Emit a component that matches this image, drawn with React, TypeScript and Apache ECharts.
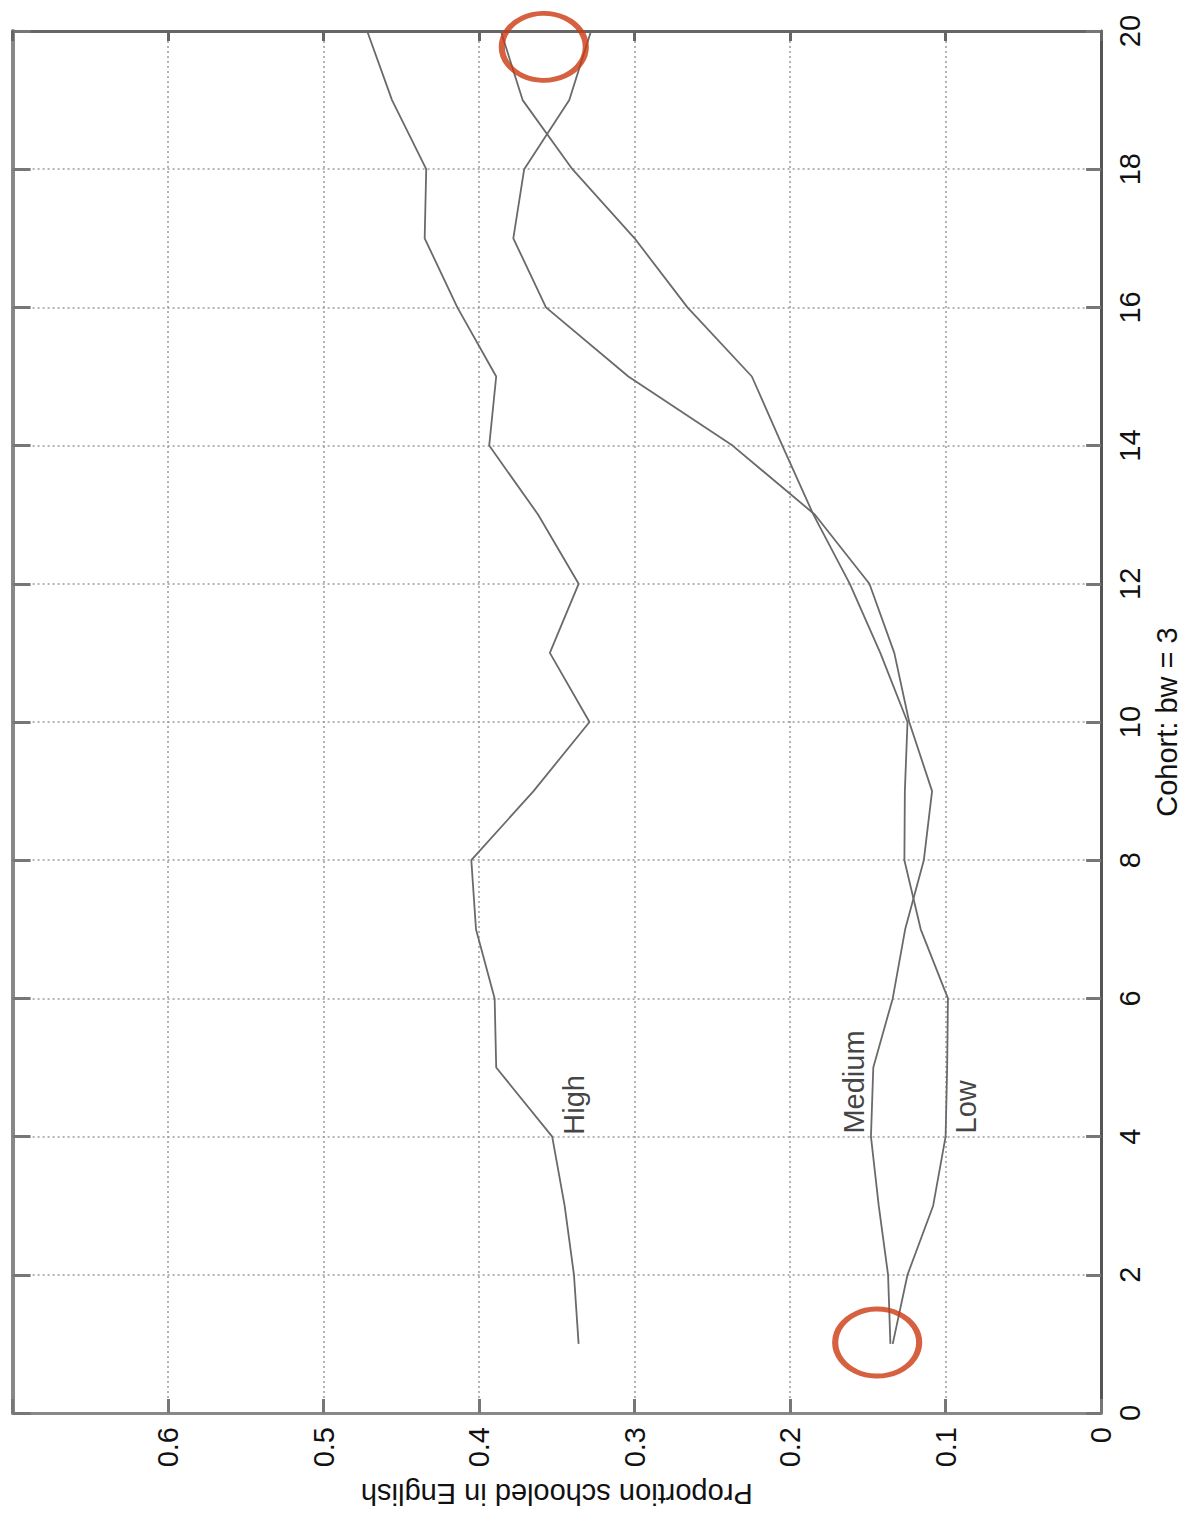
import React, { useEffect, useRef } from "react";
import * as echarts from "echarts";

const cohorts = [1, 2, 3, 4, 5, 6, 7, 8, 9, 10, 11, 12, 13, 14, 15, 16, 17, 18, 19, 20];
const highVals = [0.336, 0.339, 0.345, 0.353, 0.389, 0.39, 0.402, 0.405, 0.365, 0.329, 0.3545, 0.336, 0.362, 0.3935, 0.389, 0.414, 0.435, 0.434, 0.456, 0.472];
const mediumVals = [0.1355, 0.137, 0.143, 0.148, 0.1465, 0.134, 0.126, 0.114, 0.1087, 0.1234, 0.133, 0.149, 0.184, 0.237, 0.304, 0.357, 0.378, 0.371, 0.342, 0.328];
const lowVals = [0.134, 0.1245, 0.108, 0.1, 0.099, 0.0985, 0.116, 0.1265, 0.1262, 0.1245, 0.142, 0.1616, 0.185, 0.205, 0.2246, 0.266, 0.3, 0.34, 0.372, 0.386];

const groupLabels = ["High", "Medium", "Low"];
const labelProportion = [0.339, 0.159, 0.087];
const labelCohort = [4.46, 4.79, 4.43];

const circleProportion = [0.3584, 0.144];
const circleCohort = [19.77, 1.02];

const xTicksText = ["0", "0.1", "0.2", "0.3", "0.4", "0.5", "0.6"];

const FONT = "'Liberation Sans', Arial, Helvetica, sans-serif";
const LINE_COLOR = "#6a6a6a";

export default function App() {
  const ref = useRef<HTMLDivElement>(null);

  useEffect(() => {
    if (!ref.current) return;
    const chart = echarts.init(ref.current, undefined, { renderer: "svg" });

    const pairs = (vals: number[]) => vals.map((v, i) => [v, cohorts[i]]);

    const gridLine = { show: true, lineStyle: { color: "#9a9a9a", width: 1.5, type: [2, 3] as any } };

    const option: any = {
      animation: false,
      backgroundColor: "#ffffff",
      textStyle: { fontFamily: FONT },
      grid: { left: 12.6, right: 82.4, top: 31, bottom: 103, containLabel: false },
      xAxis: [
        {
          type: "value",
          min: 0,
          max: 0.7,
          interval: 0.1,
          inverse: true,
          position: "bottom",
          axisLine: { show: true, onZero: false, lineStyle: { color: "#888888", width: 3 } },
          axisTick: { show: true, inside: true, length: 14, lineStyle: { color: "#777777", width: 3 } },
          axisLabel: {
            show: true,
            rotate: 90,
            margin: 14,
            fontSize: 29,
            color: "#111111",
            fontFamily: FONT,
            formatter: (v: number) => {
              const idx = Math.round(v * 10);
              return idx < xTicksText.length ? xTicksText[idx] : "";
            },
          },
          splitLine: gridLine,
          name: "Proportion schooled in English",
          nameLocation: "middle",
          nameRotate: 180,
          nameGap: 66,
          nameTextStyle: { fontSize: 29, color: "#111111", fontFamily: FONT },
        },
        {
          type: "value",
          min: 0,
          max: 0.7,
          interval: 0.1,
          inverse: true,
          position: "top",
          axisLine: { show: true, onZero: false, lineStyle: { color: "#666666", width: 3 } },
          axisTick: { show: true, inside: true, length: 10, lineStyle: { color: "#666666", width: 3 } },
          axisLabel: { show: false },
          splitLine: { show: false },
        },
      ],
      yAxis: [
        {
          type: "value",
          min: 0,
          max: 20,
          interval: 2,
          position: "right",
          axisLine: { show: true, onZero: false, lineStyle: { color: "#555555", width: 3 } },
          axisTick: { show: true, inside: true, length: 15, lineStyle: { color: "#777777", width: 3 } },
          axisLabel: { show: true, rotate: 90, margin: 14, fontSize: 29, color: "#111111", fontFamily: FONT },
          splitLine: gridLine,
          name: "Cohort: bw = 3",
          nameLocation: "middle",
          nameRotate: 90,
          nameGap: 50,
          nameTextStyle: { fontSize: 29, color: "#111111", fontFamily: FONT },
        },
        {
          type: "value",
          min: 0,
          max: 20,
          interval: 2,
          position: "left",
          axisLine: { show: true, onZero: false, lineStyle: { color: "#888888", width: 4 } },
          axisTick: { show: true, inside: true, length: 18, lineStyle: { color: "#777777", width: 3 } },
          axisLabel: { show: false },
          splitLine: { show: false },
        },
      ],
      series: [
        {
          name: "High",
          type: "line",
          data: pairs(highVals),
          showSymbol: false,
          lineStyle: { color: LINE_COLOR, width: 1.8 },
          xAxisIndex: 0,
          yAxisIndex: 0,
        },
        {
          name: "Medium",
          type: "line",
          data: pairs(mediumVals),
          showSymbol: false,
          lineStyle: { color: LINE_COLOR, width: 1.8 },
          xAxisIndex: 0,
          yAxisIndex: 0,
        },
        {
          name: "Low",
          type: "line",
          data: pairs(lowVals),
          showSymbol: false,
          lineStyle: { color: LINE_COLOR, width: 1.8 },
          xAxisIndex: 0,
          yAxisIndex: 0,
        },
        {
          name: "labels",
          type: "scatter",
          symbolSize: 0,
          xAxisIndex: 0,
          yAxisIndex: 0,
          data: groupLabels.map((t, i) => ({ value: [labelProportion[i], labelCohort[i]], name: t })),
          label: {
            show: true,
            position: "inside",
            rotate: 90,
            formatter: (p: any) => p.name,
            fontSize: 29,
            color: "#111111",
            fontFamily: FONT,
          },
          z: 5,
        },
        {
          name: "circles",
          type: "scatter",
          symbol: "circle",
          symbolSize: [84, 67],
          xAxisIndex: 0,
          yAxisIndex: 0,
          data: circleProportion.map((p, i) => [p, circleCohort[i]]),
          itemStyle: { color: "rgba(0,0,0,0)", borderColor: "#cc3a12", borderWidth: 5.5 },
          z: 10,
        },
      ],
    };

    chart.setOption(option);
    return () => chart.dispose();
  }, []);

  return (
    <div
      ref={ref}
      style={{ position: "absolute", left: 0, top: 0, width: 1189, height: 1516, background: "#fff" }}
    />
  );
}
